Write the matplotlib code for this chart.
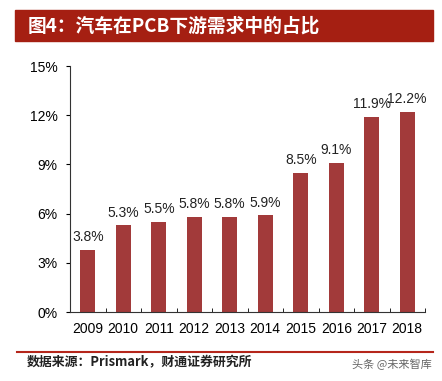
import matplotlib
matplotlib.use("Agg")
from matplotlib import pyplot as plt
from matplotlib.patches import Rectangle
from matplotlib.lines import Line2D

years = ['2009', '2010', '2011', '2012', '2013', '2014', '2015', '2016', '2017', '2018']
share = [3.8, 5.3, 5.5, 5.8, 5.8, 5.9, 8.5, 9.1, 11.9, 12.2]
labels = ['3.8%', '5.3%', '5.5%', '5.8%', '5.8%', '5.9%', '8.5%', '9.1%', '11.9%', '12.2%']
yticks = [0, 3, 6, 9, 12, 15]

title = '图4：汽车在PCB下游需求中的占比'
source = '数据来源：Prismark，财通证券研究所'
mark = '头条 @未来智库'

cjk = ['Noto Sans CJK SC', 'DejaVu Sans']
num_font = 'Liberation Sans'

fig = plt.figure(figsize=(4.42, 3.81), dpi=100)
ax = fig.add_axes([70 / 442, 1 - 312 / 381, 355 / 442, 246 / 381])

x = list(range(len(years)))
ax.bar(x, share, width=0.42, color='#a23a3a')
for xi, v, lab in zip(x, share, labels):
    ax.annotate(lab, (xi, v), xytext=(0, 4), textcoords='offset points',
                ha='center', va='bottom', fontsize=10, family=num_font, color='#222222')

ax.set_xlim(-0.5, len(years) - 0.5)
ax.set_ylim(0, 15)
ax.set_yticks(yticks)
ax.set_yticklabels([f'{t}%' for t in yticks], family=num_font, fontsize=10)
ax.set_xticks(x)
ax.set_xticklabels(years, family=num_font, fontsize=10)
ax.tick_params(axis='x', length=0, pad=7)
ax.tick_params(axis='y', length=3, direction='out', pad=6)
# boundary ticks on the x axis
ax.set_xticks([i - 0.5 for i in range(len(years) + 1)], minor=True)
ax.tick_params(axis='x', which='minor', length=3, direction='in')

for s in ['top', 'right']:
    ax.spines[s].set_visible(False)
ax.spines['left'].set_color('#333333')
ax.spines['bottom'].set_color('#333333')

# title band
fig.patches.append(Rectangle((15 / 442, 1 - 41 / 381), 418 / 442, 31 / 381,
                             transform=fig.transFigure, color='#a51f12', zorder=0))
fig.text(28 / 442, 1 - 26 / 381, title, color='white', fontsize=13.5,
         fontweight='bold', family=cjk, va='center', ha='left')

# source line
fig.lines.append(Line2D([17 / 442, 433 / 442], [1 - 352 / 381, 1 - 352 / 381],
                        transform=fig.transFigure, color='#b5261b', lw=1.5))
fig.text(27 / 442, 1 - 362 / 381, source, fontsize=9.3, fontweight='bold',
         family=cjk, color='#222222', va='center', ha='left')
fig.text(432 / 442, 1 - 364 / 381, mark, fontsize=8, family=cjk,
         color='#666666', va='center', ha='right')

fig.savefig('out.png', dpi=100)
